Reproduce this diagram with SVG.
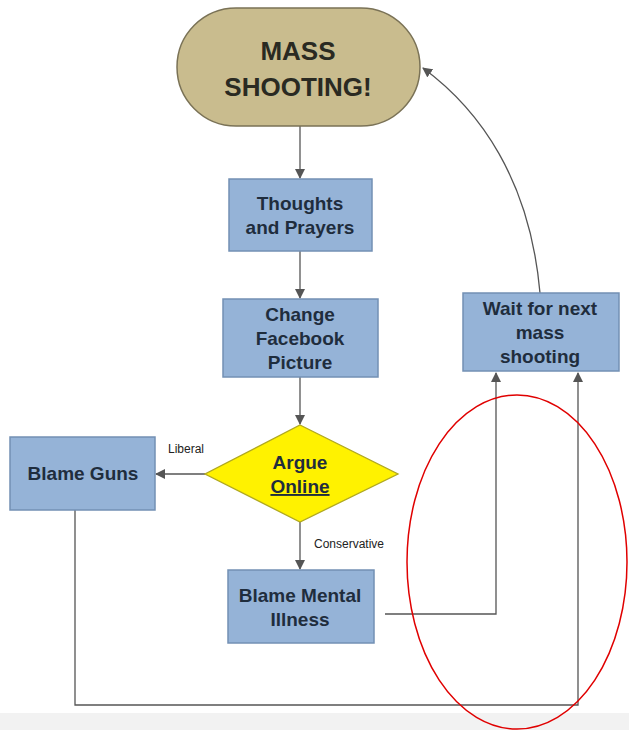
<svg xmlns="http://www.w3.org/2000/svg" width="629" height="730" viewBox="0 0 629 730">
<defs>
<marker id="ah" markerWidth="10" markerHeight="10" refX="9" refY="5" orient="auto" markerUnits="userSpaceOnUse"><path d="M0,0 L10,5 L0,10 z" fill="#555"/></marker>
<style>
.box{fill:#95b3d7;stroke:#7390b4;stroke-width:1.5}
.t{font-family:"Liberation Sans",Arial,sans-serif;font-weight:bold;font-size:19px;fill:#1f2d3d;text-anchor:middle}
.big{font-family:"Liberation Sans",Arial,sans-serif;font-weight:bold;font-size:26px;fill:#2a2a22;text-anchor:middle}
.c{fill:none;stroke:#555;stroke-width:1.3}
.s{font-family:"Liberation Sans",Arial,sans-serif;font-size:12px;fill:#222}
</style>
</defs>
<rect width="629" height="730" fill="#fff"/>
<rect y="713" width="629" height="17" fill="#f2f2f2"/>
<g id="connectors">
<line class="c" x1="300" y1="126" x2="300" y2="178" marker-end="url(#ah)"/>
<line class="c" x1="300" y1="251" x2="300" y2="298" marker-end="url(#ah)"/>
<line class="c" x1="300" y1="377" x2="300" y2="424" marker-end="url(#ah)"/>
<line class="c" x1="205" y1="474" x2="156" y2="474" marker-end="url(#ah)"/>
<line class="c" x1="300" y1="522" x2="300" y2="569" marker-end="url(#ah)"/>
<polyline class="c" points="385,614 496,614 496,373" marker-end="url(#ah)"/>
<polyline class="c" points="75,510 75,705 578,705 578,373" marker-end="url(#ah)"/>
<path class="c" d="M540,293 C530,180 480,110 423,68" marker-end="url(#ah)"/>
<text class="s" x="168" y="453">Liberal</text>
<text class="s" x="314" y="548">Conservative</text>
</g>
<g id="mass"><rect x="177" y="8" width="243" height="118" rx="59" fill="#c9bc8e" stroke="#7a7256" stroke-width="1.5"/>
<text class="big" x="298" y="60">MASS</text><text class="big" x="298" y="96">SHOOTING!</text></g>
<g id="thoughts"><rect class="box" x="229" y="179" width="143" height="72"/><text class="t" x="300" y="210">Thoughts</text><text class="t" x="300" y="234">and Prayers</text></g>
<g id="facebook"><rect class="box" x="223" y="299" width="155" height="78"/><text class="t" x="300" y="321">Change</text><text class="t" x="300" y="345">Facebook</text><text class="t" x="300" y="369">Picture</text></g>
<g id="argue"><polygon points="300,425 398,474 300,522 205,474" fill="#fff200" stroke="#b0a820" stroke-width="1.3"/><text class="t" x="300" y="469">Argue</text><text class="t" x="300" y="493" text-decoration="underline">Online</text></g>
<g id="guns"><rect class="box" x="10" y="437" width="145" height="73"/><text class="t" x="83" y="480">Blame Guns</text></g>
<g id="mental"><rect class="box" x="228" y="570" width="146" height="73"/><text class="t" x="300" y="602">Blame Mental</text><text class="t" x="300" y="626">Illness</text></g>
<g id="wait"><rect class="box" x="463" y="293" width="156" height="78"/><text class="t" x="540" y="315">Wait for next</text><text class="t" x="540" y="339">mass</text><text class="t" x="540" y="363">shooting</text></g>
<ellipse cx="517" cy="562" rx="110" ry="167" fill="none" stroke="#e00000" stroke-width="1.5"/>
</svg>
